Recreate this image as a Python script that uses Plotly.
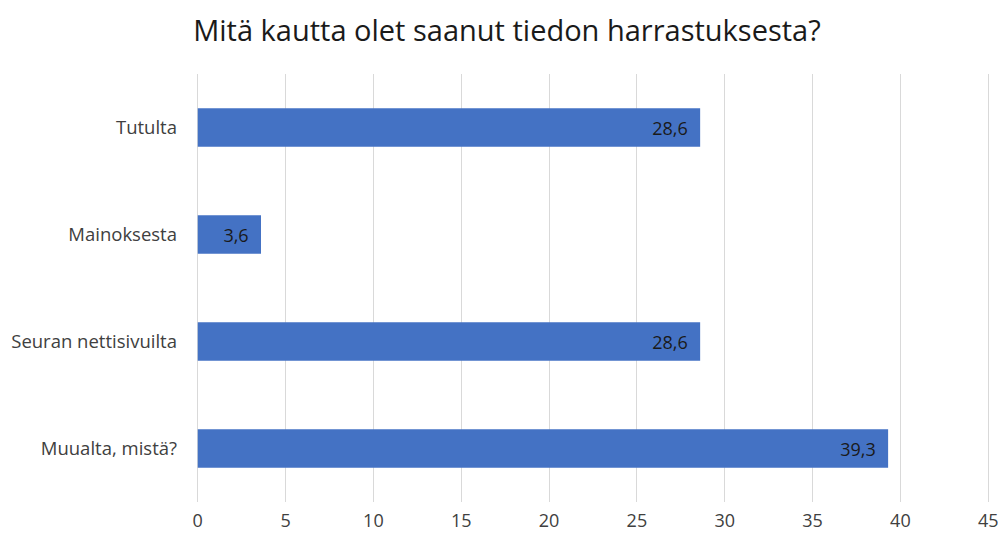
import plotly.graph_objects as go

categories = ["Tutulta", "Mainoksesta", "Seuran nettisivuilta", "Muualta, mistä?"]
values = [28.6, 3.6, 28.6, 39.3]
x_ticks = [0, 5, 10, 15, 20, 25, 30, 35, 40, 45]

fig = go.Figure(go.Bar(
    x=values, y=categories, orientation="h",
    marker=dict(color="#4472C4", line=dict(width=0)),
    width=0.36,
    texttemplate="%{x:.1f}\u00a0\u00a0", textposition="inside", insidetextanchor="end",
    textfont=dict(color="#1a1a1a", size=18, family="Open Sans"),
    cliponaxis=False,
))

fig.update_layout(
    width=998, height=533,
    separators=", ",
    margin=dict(l=196, r=8, t=74, b=31, autoexpand=False),
    paper_bgcolor="white", plot_bgcolor="white",
    title=dict(text="Mitä kautta olet saanut tiedon harrastuksesta?",
               x=0.508, xanchor="center", y=1 - 31 / 533, yanchor="middle",
               font=dict(family="Open Sans", size=29, color="#1a1a1a")),
    font=dict(family="Open Sans", size=18, color="#404040"),
    xaxis=dict(range=[-0.1, 45.1], tickvals=x_ticks, showgrid=True, gridcolor="#d9d9d9",
               gridwidth=1, zeroline=False, showline=False, ticks="",
               ticklabeloverflow="allow", ticklabelstandoff=6,
               tickfont=dict(size=18, color="#404040"), fixedrange=True, automargin=False),
    yaxis=dict(autorange="reversed", showgrid=False, zeroline=False, showline=False,
               ticks="", ticklabelstandoff=18, automargin=False,
               tickfont=dict(size=18.5, color="#404040")),
    showlegend=False,
)

fig.write_html(
    "out.html",
    config={"displayModeBar": False},
    post_script="document.body.style.margin='0';document.body.style.overflow='hidden';",
)
